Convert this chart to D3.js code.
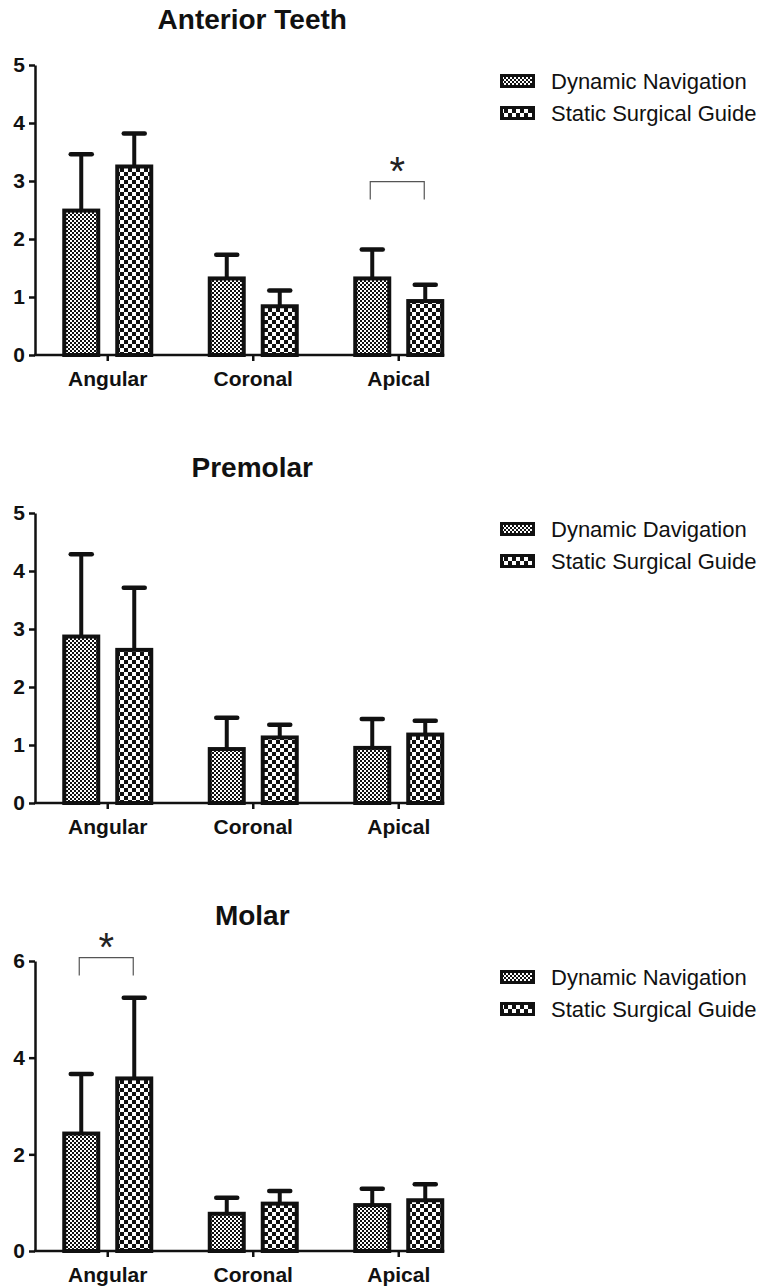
<!DOCTYPE html>
<html>
<head>
<meta charset="UTF-8">
<script src="https://d3js.org/d3.v7.min.js"></script>
<style>
  body { margin: 0; background: #fff; font-family: "Liberation Sans", Arial, Helvetica, sans-serif; }
  svg { display: block; }
  .axis path, .axis line { stroke: #111; stroke-width: 2.5px; }
  .axis text { font-family: "Liberation Sans", Arial, sans-serif; font-weight: bold; fill: #111; }
</style>
</head>
<body>
<div id="chart"></div>
<script>
  // ---- data ----
  var categories = ["Angular", "Coronal", "Apical"];
  var groups = ["dynamic", "static"];
  var panelTitles = ["Anterior Teeth", "Premolar", "Molar"];
  var legendLabels = [
    ["Dynamic Navigation", "Static Surgical Guide"],
    ["Dynamic Davigation", "Static Surgical Guide"],
    ["Dynamic Navigation", "Static Surgical Guide"]
  ];
  var yMax = [5, 5, 6];
  var yTicks = [[0, 1, 2, 3, 4, 5], [0, 1, 2, 3, 4, 5], [0, 2, 4, 6]];

  var anteriorDynamic = [2.49, 1.32, 1.32], anteriorDynamicSD = [0.97, 0.41, 0.50];
  var anteriorStatic = [3.25, 0.84, 0.93], anteriorStaticSD = [0.57, 0.27, 0.28];
  var premolarDynamic = [2.87, 0.93, 0.95], premolarDynamicSD = [1.42, 0.54, 0.50];
  var premolarStatic = [2.64, 1.13, 1.18], premolarStaticSD = [1.07, 0.22, 0.24];
  var molarDynamic = [2.43, 0.77, 0.95], molarDynamicSD = [1.23, 0.33, 0.34];
  var molarStatic = [3.57, 0.98, 1.05], molarStaticSD = [1.67, 0.26, 0.33];

  // significance brackets: panel, category, bracket height (data units)
  var sigPanel = [0, 2];
  var sigCategory = ["Apical", "Angular"];
  var sigLevel = [2.99, 6.07];

  var means = [[anteriorDynamic, anteriorStatic], [premolarDynamic, premolarStatic], [molarDynamic, molarStatic]];
  var sds = [[anteriorDynamicSD, anteriorStaticSD], [premolarDynamicSD, premolarStaticSD], [molarDynamicSD, molarStaticSD]];

  // ---- layout ----
  var width = 774, height = 1287;
  var panelStep = 448;
  var axisX = 35, plotTop = 65, plotBottom = 355;

  var svg = d3.select("#chart").append("svg")
      .attr("width", width)
      .attr("height", height);

  var defs = svg.append("defs");
  // fine checker for dynamic navigation
  var pf = defs.append("pattern").attr("id", "pat-dynamic")
      .attr("patternUnits", "userSpaceOnUse").attr("width", 4).attr("height", 4);
  pf.append("rect").attr("width", 4).attr("height", 4).attr("fill", "#fff");
  pf.append("rect").attr("width", 2).attr("height", 2).attr("fill", "#111");
  pf.append("rect").attr("x", 2).attr("y", 2).attr("width", 2).attr("height", 2).attr("fill", "#111");
  // coarse checker for static guide
  var pc = defs.append("pattern").attr("id", "pat-static")
      .attr("patternUnits", "userSpaceOnUse").attr("width", 8).attr("height", 8);
  pc.append("rect").attr("width", 8).attr("height", 8).attr("fill", "#fff");
  pc.append("rect").attr("width", 4).attr("height", 4).attr("fill", "#111");
  pc.append("rect").attr("x", 4).attr("y", 4).attr("width", 4).attr("height", 4).attr("fill", "#111");

  var x = d3.scaleBand()
      .domain(categories)
      .range([axisX, axisX + 3 * 145.5]);

  var xSub = d3.scaleBand()
      .domain(groups)
      .range([-45.5, 45.5])
      .paddingInner(0.283);

  var fills = { dynamic: "url(#pat-dynamic)", "static": "url(#pat-static)" };

  panelTitles.forEach(function(title, p) {
    var g = svg.append("g").attr("transform", "translate(0," + (p * panelStep) + ")");

    var y = d3.scaleLinear()
        .domain([0, yMax[p]])
        .range([plotBottom, plotTop]);

    var rows = [];
    categories.forEach(function(c, i) {
      groups.forEach(function(k, j) {
        rows.push({ cat: c, grp: k, mean: means[p][j][i], sd: sds[p][j][i] });
      });
    });

    // title
    g.append("text")
        .attr("x", (x.range()[0] + x.range()[1]) / 2 - 1)
        .attr("y", 29)
        .attr("text-anchor", "middle")
        .style("font-size", "28px")
        .style("font-weight", "bold")
        .style("fill", "#111")
        .text(title);

    // error bars (behind bars)
    var err = g.append("g").selectAll("g").data(rows).enter().append("g");
    err.append("line")
        .attr("x1", function(d) { return x(d.cat) + x.bandwidth() / 2 + xSub(d.grp) + xSub.bandwidth() / 2; })
        .attr("x2", function(d) { return x(d.cat) + x.bandwidth() / 2 + xSub(d.grp) + xSub.bandwidth() / 2; })
        .attr("y1", function(d) { return y(d.mean); })
        .attr("y2", function(d) { return y(d.mean + d.sd); })
        .attr("stroke", "#111").attr("stroke-width", 4);
    err.append("line")
        .attr("x1", function(d) { return x(d.cat) + x.bandwidth() / 2 + xSub(d.grp) + xSub.bandwidth() / 2 - 10.5; })
        .attr("x2", function(d) { return x(d.cat) + x.bandwidth() / 2 + xSub(d.grp) + xSub.bandwidth() / 2 + 10.5; })
        .attr("y1", function(d) { return y(d.mean + d.sd); })
        .attr("y2", function(d) { return y(d.mean + d.sd); })
        .attr("stroke", "#111").attr("stroke-width", 4.5).attr("stroke-linecap", "round");

    // bars
    g.append("g").selectAll("rect").data(rows).enter().append("rect")
        .attr("x", function(d) { return x(d.cat) + x.bandwidth() / 2 + xSub(d.grp) + 2; })
        .attr("width", xSub.bandwidth() - 4)
        .attr("y", function(d) { return y(d.mean); })
        .attr("height", function(d) { return y(0) - y(d.mean); })
        .attr("fill", function(d) { return fills[d.grp]; })
        .attr("stroke", "#111")
        .attr("stroke-width", 4);

    // y axis
    var ya = g.append("g").attr("class", "axis")
        .attr("transform", "translate(" + axisX + ",0)")
        .call(d3.axisLeft(y).tickValues(yTicks[p]).tickFormat(d3.format("d")).tickSize(6).tickSizeOuter(0).tickPadding(4));
    ya.selectAll("text").style("font-size", "21px");

    // x axis
    var xa = g.append("g").attr("class", "axis")
        .attr("transform", "translate(0," + plotBottom + ")")
        .call(d3.axisBottom(x).tickSize(6).tickSizeOuter(0).tickPadding(10));
    xa.select(".domain").remove();
    xa.append("line")
        .attr("x1", axisX - 1)
        .attr("x2", x(categories[categories.length - 1]) + x.bandwidth() / 2 + xSub.range()[1])
        .attr("stroke", "#111").attr("stroke-width", 2.5);
    xa.selectAll("text").style("font-size", "21px");

    // legend
    var lg = g.append("g").selectAll("g").data(groups).enter().append("g")
        .attr("transform", function(d, i) { return "translate(500," + (81 + i * 32) + ")"; });
    lg.append("rect")
        .attr("x", 1.5).attr("y", -5.5).attr("width", 32).attr("height", 11)
        .attr("fill", function(d) { return fills[d]; })
        .attr("stroke", "#111").attr("stroke-width", 3);
    lg.append("text")
        .attr("x", 51)
        .attr("y", 7.5)
        .style("font-size", "22px")
        .style("fill", "#111")
        .text(function(d, i) { return legendLabels[p][i]; });

    // significance brackets
    sigPanel.forEach(function(sp, s) {
      if (sp !== p) return;
      var cx = x(sigCategory[s]) + x.bandwidth() / 2;
      var x1 = cx + xSub("dynamic") + xSub.bandwidth() / 2 - 2;
      var x2 = cx + xSub("static") + xSub.bandwidth() / 2 - 1;
      var yt = y(sigLevel[s]);
      g.append("path")
          .attr("d", "M" + x1 + "," + (yt + 18) + "V" + yt + "H" + x2 + "V" + (yt + 18))
          .attr("fill", "none").attr("stroke", "#555").attr("stroke-width", 1.2);
      g.append("text")
          .attr("x", (x1 + x2) / 2)
          .attr("y", yt + 3)
          .attr("text-anchor", "middle")
          .style("font-size", "40px")
          .style("fill", "#222")
          .text("*");
    });
  });
</script>
</body>
</html>
